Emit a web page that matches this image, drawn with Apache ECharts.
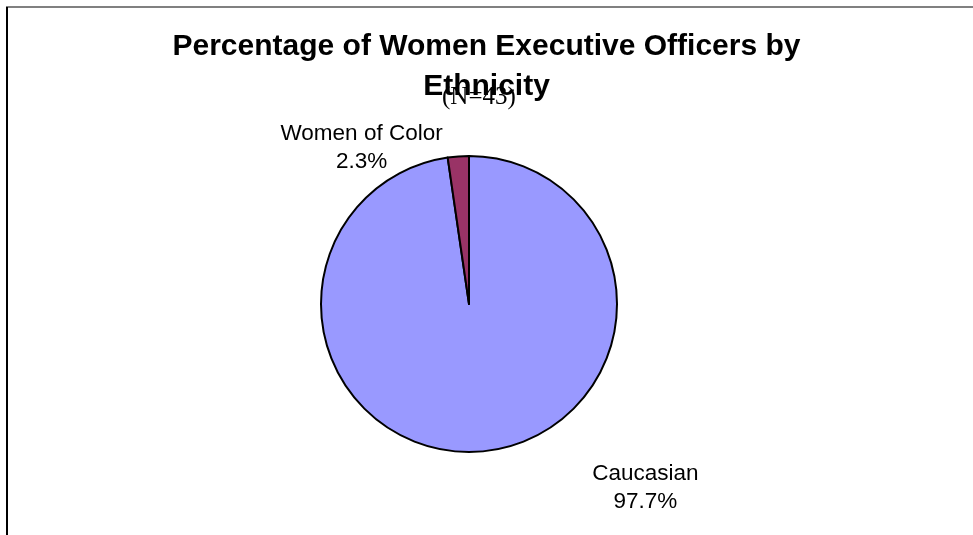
<!DOCTYPE html>
<html>
<head>
<meta charset="utf-8">
<script src="https://cdn.jsdelivr.net/npm/echarts@6/dist/echarts.min.js"></script>
<style>
  html, body { margin: 0; padding: 0; background: #fff; }
  #chart { width: 973px; height: 535px; }
</style>
</head>
<body>
<div id="chart"></div>
<script>
// slices, clockwise from 12 o'clock
var categories = ['Caucasian', 'Women of Color'];
var percents = [97.7, 2.3];
var sliceColors = ['#9999FF', '#993366'];
var titleText = 'Percentage of Women Executive Officers by\nEthnicity';
var subText = '(N=43)';

// label line lengths (hidden), used only to push labels off the pie
var labelPull = [
    { length: 36, length2: 105 },
    { length: 9, length2: 10 }
];

var chart = echarts.init(document.getElementById('chart'));

var data = categories.map(function (name, i) {
    return {
        name: name,
        value: percents[i],
        itemStyle: { color: sliceColors[i] },
        labelLine: { show: false, length: labelPull[i].length, length2: labelPull[i].length2 }
    };
});

chart.setOption({
    backgroundColor: '#fff',
    animation: false,
    title: [{
        text: titleText,
        left: 'center',
        top: 27,
        padding: 0,
        textStyle: {
            fontFamily: 'Liberation Sans, Arial, sans-serif',
            fontWeight: 'bold',
            fontSize: 30,
            lineHeight: 40,
            color: '#000'
        }
    }, {
        text: subText,
        left: 442,
        top: 85,
        padding: 0,
        textStyle: {
            fontFamily: 'Liberation Serif, Times New Roman, serif',
            fontWeight: 'normal',
            fontSize: 25,
            color: '#000'
        }
    }],
    graphic: [{
        type: 'line',
        shape: { x1: 6, y1: 7, x2: 973, y2: 7 },
        style: { stroke: '#808080', lineWidth: 2 }
    }, {
        type: 'line',
        shape: { x1: 7, y1: 7, x2: 7, y2: 535 },
        style: { stroke: '#000', lineWidth: 2 }
    }],
    series: [{
        type: 'pie',
        center: [469, 304],
        radius: 148,
        startAngle: 90,
        clockwise: true,
        avoidLabelOverlap: false,
        itemStyle: { borderColor: '#000', borderWidth: 2 },
        emphasis: { disabled: true },
        label: {
            show: true,
            position: 'outside',
            color: '#000',
            formatter: function (p) {
                return '{t|' + p.name + '}\n{t|' + p.value.toFixed(1) + '%}';
            },
            rich: {
                t: {
                    fontFamily: 'Liberation Sans, Arial, sans-serif',
                    fontSize: 22.5,
                    lineHeight: 28,
                    color: '#000',
                    align: 'center'
                }
            }
        },
        data: data
    }]
});
</script>
</body>
</html>
